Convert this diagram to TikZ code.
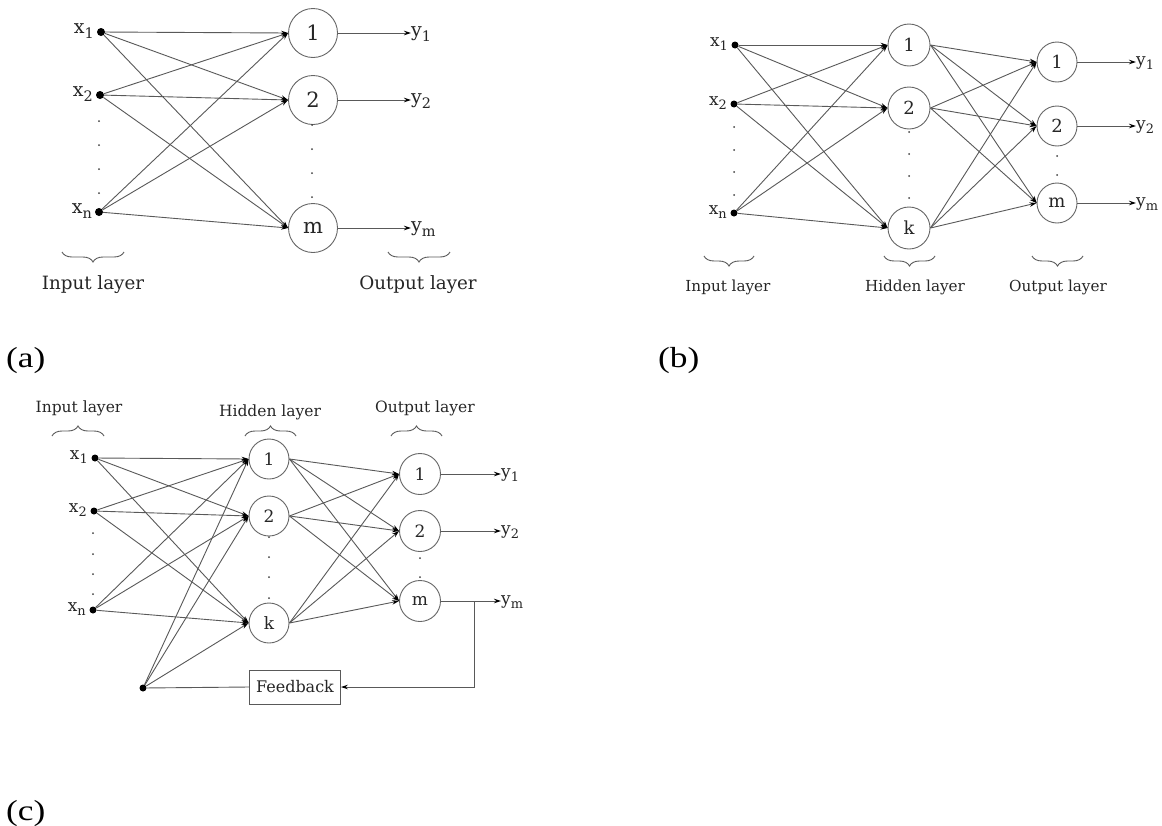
\documentclass[tikz,border=0pt]{standalone}
\usepackage{fontspec}
\setmainfont{DejaVu Serif}
\newfontfamily\capfont{Liberation Serif}
\usetikzlibrary{arrows.meta,decorations.pathreplacing}
\makeatletter
\newcommand\vsub[2]{#1\raisebox{-\fpeval{0.28*\f@size}pt}{\fontsize{\fpeval{0.76*\f@size}}{0}\selectfont #2}}
\makeatother
\begin{document}
\begin{tikzpicture}[x=1pt,y=-1pt,
  ln/.style={draw=black!65, line width=0.9pt},
  arr/.style={ln, -{Stealth[length=7pt,width=4.5pt,color=black]}},
  indot/.style={circle, fill=black, inner sep=0pt, minimum size=#1},
  indot/.default=7pt,
  vdot/.style={circle, fill=black!75, inner sep=0pt, minimum size=2pt},
  neuron/.style={circle, draw=black!60, line width=0.9pt, fill=white, inner sep=0pt, minimum size=#1, text=black!85},
  labA/.style={inner sep=0pt, text=black!85, font=\fontsize{19}{21}\selectfont},
  labB/.style={inner sep=0pt, text=black!85, font=\fontsize{17}{19}\selectfont},
  layA/.style={inner sep=0pt, text=black!85, font=\fontsize{18.3}{20}\selectfont},
  layB/.style={inner sep=0pt, text=black!85, font=\fontsize{15.2}{17}\selectfont},
  layC/.style={inner sep=0pt, text=black!85, font=\fontsize{15.5}{17}\selectfont},
  brace/.style={ln, decorate, decoration={brace, amplitude=#1}},
  captxt/.style={inner sep=0pt, anchor=west, font=\capfont\fontsize{29}{30}\selectfont},
  fbbox/.style={draw=black!65, line width=0.9pt, minimum width=91pt, minimum height=34pt, inner sep=0pt, text=black!85, font=\fontsize{16}{18}\selectfont}
]
\useasboundingbox (0,0) rectangle (1162,825);
\fill[white] (0,0) rectangle (1162,825);

% ================= Panel (a) =================
\node[indot=8pt] (a1) at (101,32) {};
\node[indot=8pt] (a2) at (100,95) {};
\node[indot=8pt] (an) at (99,212) {};
\node[labA, anchor=east] (a1l) at (94,31) {\vsub{x}{1}};
\node[labA, anchor=east] (a2l) at (93,94) {\vsub{x}{2}};
\node[labA, anchor=east] (anl) at (92,211) {\vsub{x}{n}};
\foreach \yy [count=\i] in {121,145,169,193} \node[vdot] (adl\i) at (99,\yy) {};
\node[neuron=49pt, font=\fontsize{21}{22}\selectfont] (ao1) at (313,33) {1};
\node[neuron=49pt, font=\fontsize{21}{22}\selectfont] (ao2) at (313,100) {2};
\node[neuron=49pt, font=\fontsize{21}{22}\selectfont] (aom) at (313,228) {m};
\foreach \yy [count=\i] in {125,149,173,197} \node[vdot] (adr\i) at (312,\yy) {};
\foreach \s in {a1,a2,an}
  \foreach \t in {ao1,ao2,aom}
    \draw[arr] (\s) -- (\t.west);
\node[labA, anchor=west] (ay1) at (411,34) {\vsub{y}{1}};
\node[labA, anchor=west] (ay2) at (411,101) {\vsub{y}{2}};
\node[labA, anchor=west] (aym) at (411,229) {\vsub{y}{m}};
\draw[arr] (ao1.east) -- (ao1 -| ay1.west);
\draw[arr] (ao2.east) -- (ao2 -| ay2.west);
\draw[arr] (aom.east) -- (aom -| aym.west);
\draw[brace=10pt] (124,252) -- (62,252);
\draw[brace=10pt] (450,252) -- (388,252);
\node[layA] (ail) at (93,285) {Input layer};
\node[layA] (aol) at (418,285) {Output layer};
\node[captxt] (capa) at (6,361) {\scalebox{1.22}[1]{(a)}};

% ================= Panel (b) =================
\node[indot] (b1) at (735,45) {};
\node[indot] (b2) at (734,104) {};
\node[indot] (bn) at (734,213) {};
\node[labB, anchor=east] (b1l) at (728,44) {\vsub{x}{1}};
\node[labB, anchor=east] (b2l) at (727,103) {\vsub{x}{2}};
\node[labB, anchor=east] (bnl) at (727,212) {\vsub{x}{n}};
\foreach \yy [count=\i] in {127,150,172,195} \node[vdot] (bdl\i) at (734,\yy) {};
\node[neuron=42pt, font=\fontsize{18}{20}\selectfont] (bh1) at (909,45) {1};
\node[neuron=42pt, font=\fontsize{18}{20}\selectfont] (bh2) at (909,108) {2};
\node[neuron=42pt, font=\fontsize{18}{20}\selectfont] (bhk) at (909,228) {k};
\foreach \yy [count=\i] in {132,154,176,198} \node[vdot] (bdm\i) at (909,\yy) {};
\node[neuron=40pt, font=\fontsize{18}{20}\selectfont] (bo1) at (1057,62) {1};
\node[neuron=40pt, font=\fontsize{18}{20}\selectfont] (bo2) at (1057,126) {2};
\node[neuron=40pt, font=\fontsize{18}{20}\selectfont] (bom) at (1057,203) {m};
\foreach \yy [count=\i] in {156,175} \node[vdot] (bdr\i) at (1057,\yy) {};
\foreach \s in {b1,b2,bn}
  \foreach \t in {bh1,bh2,bhk}
    \draw[arr] (\s) -- (\t.west);
\foreach \s in {bh1,bh2,bhk}
  \foreach \t in {bo1,bo2,bom}
    \draw[arr] (\s.east) -- (\t.west);
\node[labB, anchor=west] (by1) at (1136,63) {\vsub{y}{1}};
\node[labB, anchor=west] (by2) at (1136,127) {\vsub{y}{2}};
\node[labB, anchor=west] (bym) at (1136,204) {\vsub{y}{m}};
\draw[arr] (bo1.east) -- (bo1 -| by1.west);
\draw[arr] (bo2.east) -- (bo2 -| by2.west);
\draw[arr] (bom.east) -- (bom -| bym.west);
\draw[brace=10pt] (754,256) -- (704,256);
\draw[brace=10pt] (935,256) -- (884,256);
\draw[brace=10pt] (1083,256) -- (1032,256);
\node[layB] (bil) at (728,287) {Input layer};
\node[layB] (bhl) at (915,287) {Hidden layer};
\node[layB] (bol) at (1058,287) {Output layer};
\node[captxt] (capb) at (658,361) {\scalebox{1.22}[1]{(b)}};

% ================= Panel (c) =================
\node[indot] (c1) at (95,458) {};
\node[indot] (c2) at (94,511) {};
\node[indot] (cn) at (93,610) {};
\node[labB, anchor=east] (c1l) at (88,457) {\vsub{x}{1}};
\node[labB, anchor=east] (c2l) at (87,510) {\vsub{x}{2}};
\node[labB, anchor=east] (cnl) at (86,609) {\vsub{x}{n}};
\foreach \yy [count=\i] in {533,554,574,594} \node[vdot] (cdl\i) at (93,\yy) {};
\node[neuron=40pt, font=\fontsize{17}{19}\selectfont] (ch1) at (269,459) {1};
\node[neuron=40pt, font=\fontsize{17}{19}\selectfont] (ch2) at (269,516) {2};
\node[neuron=40pt, font=\fontsize{17}{19}\selectfont] (chk) at (269,623) {k};
\foreach \yy [count=\i] in {537,557,577,598} \node[vdot] (cdm\i) at (269,\yy) {};
\node[neuron=41pt, font=\fontsize{17}{19}\selectfont] (co1) at (420,474) {1};
\node[neuron=41pt, font=\fontsize{17}{19}\selectfont] (co2) at (420,531) {2};
\node[neuron=41pt, font=\fontsize{17}{19}\selectfont] (com) at (420,601) {m};
\foreach \yy [count=\i] in {558,577} \node[vdot] (cdr\i) at (420,\yy) {};
\foreach \s in {c1,c2,cn}
  \foreach \t in {ch1,ch2,chk}
    \draw[arr] (\s) -- (\t.west);
\foreach \s in {ch1,ch2,chk}
  \foreach \t in {co1,co2,com}
    \draw[arr] (\s.east) -- (\t.west);
\node[labB, anchor=west] (cy1) at (501,475) {\vsub{y}{1}};
\node[labB, anchor=west] (cy2) at (501,532) {\vsub{y}{2}};
\node[labB, anchor=west] (cym) at (501,602) {\vsub{y}{m}};
\draw[arr] (co1.east) -- (co1 -| cy1.west);
\draw[arr] (co2.east) -- (co2 -| cy2.west);
\draw[arr] (com.east) -- (com -| cym.west);
\node[fbbox] (fb) at (295,687) {Feedback};
\node[indot] (cfd) at (143,688) {};
\coordinate (cj) at (474,601);
\draw[arr] (cj) |- (fb.east);
\draw[ln] (fb.west) -- (cfd);
\foreach \t in {ch1,ch2,chk}
  \draw[arr] (cfd) -- (\t.west);
\draw[brace=10pt] (52,436) -- (104,436);
\draw[brace=10pt] (245,436) -- (296,436);
\draw[brace=10pt] (391,436) -- (442,436);
\node[layC] (cil) at (79,408) {Input layer};
\node[layC] (chl) at (270,412) {Hidden layer};
\node[layC] (col) at (425,408) {Output layer};
\node[captxt] (capc) at (6,814) {\scalebox{1.22}[1]{(c)}};
\end{tikzpicture}
\end{document}
